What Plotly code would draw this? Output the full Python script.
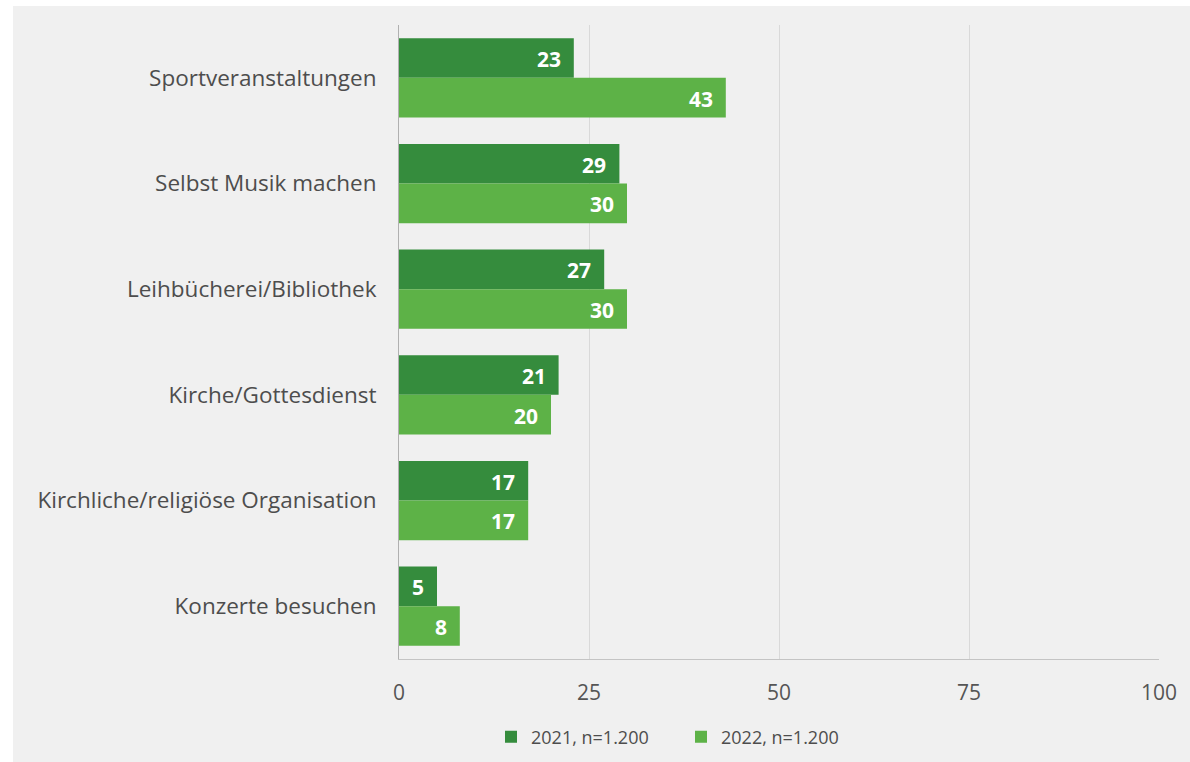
import plotly.graph_objects as go

# Survey results: share of respondents (%) per activity
categories = [
    "Sportveranstaltungen",
    "Selbst Musik machen",
    "Leihbücherei/Bibliothek",
    "Kirche/Gottesdienst",
    "Kirchliche/religiöse Organisation",
    "Konzerte besuchen",
]
values_2021 = [23, 29, 27, 21, 17, 5]
values_2022 = [43, 30, 30, 20, 17, 8]
series_names = ["2021, n=1.200", "2022, n=1.200"]
x_ticks = [0, 25, 50, 75, 100]

dark_green = "#358c3d"
light_green = "#5db247"
bg_gray = "#f0f0f0"
text_gray = "#4d4d4d"
font_family = "Open Sans, Noto Sans, sans-serif"

W, H = 1190, 762
M_L, M_R, M_T, M_B = 399, 31, 25, 103
plot_w = W - M_L - M_R
plot_h = H - M_T - M_B

fig = go.Figure()
for name, vals, col in [
    (series_names[0], values_2021, dark_green),
    (series_names[1], values_2022, light_green),
]:
    fig.add_trace(go.Bar(
        y=categories, x=vals, name=name, orientation="h",
        marker=dict(color=col, line=dict(width=0)),
        hoverinfo="x+name",
    ))

# Value labels inside the bar ends
BAR_GAP = 0.25
half = (1 - BAR_GAP) / 4
annotations = []
for i, cat in enumerate(categories):
    for vals, off in [(values_2021, -half), (values_2022, half)]:
        annotations.append(dict(
            x=vals[i], y=i + off, xref="x", yref="y",
            text=f"<b>{vals[i]}</b>", showarrow=False,
            xanchor="right", yanchor="middle", xshift=-11, yshift=-1,
            font=dict(family=font_family, size=21, color="white"),
        ))

# White border strip to the left and top of the gray panel
px_to_x = lambda px: (px - M_L) / plot_w
px_to_y = lambda py: (H - M_B - py) / plot_h
shapes = [
    dict(type="rect", xref="paper", yref="paper", layer="below",
         x0=px_to_x(0), x1=px_to_x(13), y0=px_to_y(H), y1=px_to_y(0),
         fillcolor="white", line=dict(width=0)),
    dict(type="rect", xref="paper", yref="paper", layer="below",
         x0=px_to_x(0), x1=px_to_x(W), y0=px_to_y(6), y1=px_to_y(0),
         fillcolor="white", line=dict(width=0)),
]

fig.update_layout(
    width=W, height=H,
    margin=dict(l=M_L, r=M_R, t=M_T, b=M_B, autoexpand=False),
    paper_bgcolor=bg_gray, plot_bgcolor=bg_gray,
    barmode="group", bargap=BAR_GAP, bargroupgap=0,
    font=dict(family=font_family, color=text_gray),
    annotations=annotations, shapes=shapes,
    legend=dict(
        orientation="h", x=px_to_x(491), xanchor="left",
        y=px_to_y(737), yanchor="middle",
        font=dict(size=18, color=text_gray),
        itemwidth=30, entrywidth=145, entrywidthmode="pixels",
        traceorder="normal", bgcolor="rgba(0,0,0,0)",
    ),
    xaxis=dict(
        range=[0, 100], tickvals=x_ticks, showgrid=True,
        gridcolor="#d9d9d9", gridwidth=1, zeroline=False,
        showline=True, linecolor="#c4c4c4", linewidth=1,
        ticks="", ticklabelstandoff=15,
        tickfont=dict(size=21, color="#555555"), fixedrange=True,
    ),
    yaxis=dict(
        autorange="reversed", showline=True, linecolor="#b0b0b0",
        linewidth=1, ticks="", ticklabelstandoff=17,
        tickfont=dict(size=22.5, color=text_gray), fixedrange=True,
    ),
)

fig.write_html("out.html", include_plotlyjs=True)
